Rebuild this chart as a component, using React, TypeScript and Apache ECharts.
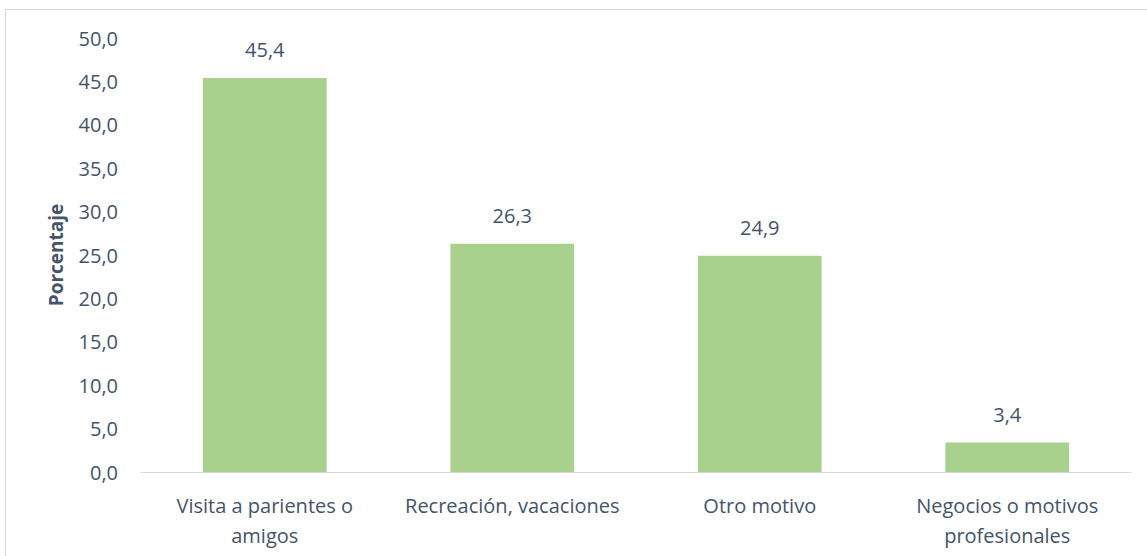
import React, { useEffect, useRef } from "react";
import * as echarts from "echarts";

const categories = ["Visita a parientes o\namigos", "Recreación, vacaciones", "Otro motivo", "Negocios o motivos\nprofesionales"];
const values = [45.4, 26.3, 24.9, 3.4];
const yAxisName = "Porcentaje";

const TEXT = "#44546a";
const FONT = "'Open Sans', 'Noto Sans', sans-serif";
const fmt = (v: number) => v.toFixed(1).replace(".", ",");

export default function App() {
  const ref = useRef<HTMLDivElement>(null);
  useEffect(() => {
    const chart = echarts.init(ref.current!, null, { renderer: "svg" });
    chart.setOption({
      animation: false,
      backgroundColor: "#fff",
      textStyle: { fontFamily: FONT },
      graphic: [
        {
          type: "rect",
          shape: { x: 5.5, y: 9.5, width: 1300, height: 700 },
          style: { fill: "none", stroke: "#d9d9d9", lineWidth: 1 },
          silent: true,
          z: -1,
        },
      ],
      grid: { left: 141, right: 16, top: 38, bottom: 84 },
      xAxis: {
        type: "category",
        data: categories,
        axisLine: { lineStyle: { color: "#d9d9d9", width: 1 } },
        axisTick: { show: false },
        axisLabel: { color: TEXT, fontSize: 20, fontFamily: FONT, lineHeight: 30, margin: 18, interval: 0 },
      },
      yAxis: {
        type: "value",
        min: 0,
        max: 50,
        interval: 5,
        name: yAxisName,
        nameLocation: "middle",
        nameGap: 76,
        nameTextStyle: { color: TEXT, fontSize: 19, fontWeight: "bold", fontFamily: FONT },
        axisLine: { show: false },
        axisTick: { show: false },
        splitLine: { show: false },
        axisLabel: { color: TEXT, fontSize: 20, fontFamily: FONT, margin: 23, formatter: (v: number) => fmt(v) },
      },
      series: [
        {
          type: "bar",
          data: values,
          barWidth: "50%",
          itemStyle: { color: "#a9d18e" },
          label: {
            show: true,
            position: "top",
            distance: 18,
            color: TEXT,
            fontSize: 20,
            fontFamily: FONT,
            formatter: (p: any) => fmt(p.value),
          },
        },
      ],
    });
    return () => chart.dispose();
  }, []);
  return <div ref={ref} style={{ position: "fixed", left: 0, top: 0, width: 1147, height: 556 }} />;
}
